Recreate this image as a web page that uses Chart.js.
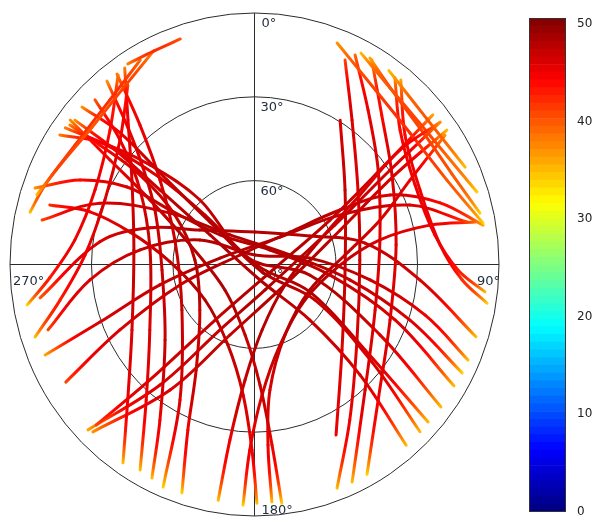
<!DOCTYPE html>
<html>
<head>
<meta charset="utf-8">
<script src="https://cdn.jsdelivr.net/npm/chart.js@4.4.1/dist/chart.umd.min.js"></script>
<style>
html,body{margin:0;padding:0;background:#fff;overflow:hidden;width:601px;height:522px}
.box{position:absolute}
</style>
</head>
<body>
<div class="box" style="left:0;top:0;width:510px;height:522px"><canvas id="sky" width="510" height="522"></canvas></div>
<div class="box" style="left:520px;top:0;width:81px;height:530px"><canvas id="bar" width="81" height="530"></canvas></div>
<script>
// ---------------- data (azimuth deg, elevation deg, SNR dB-Hz) ----------------
const satLabels = ["T01","T02","T03","T04","T05","T06","T07","T08","T09","T10","T11","T12","T13","T14","T15","T16","T17","T18","T19","T20","T21","T22","T23","T24","T25","T26","T27","T28","T29","T30","T31","T32","T33","T34","T35","T36","T37","T38"];

const trackAz = [
  [341.3,334.2,327.0],
  [333.8,322.0,309.4,297.1,287.3],
  [330.1,317.9,302.9,290.3,282.8],
  [311.6,313.6,313.2,312.8,134.0,119.7,128.9,134.5],
  [305.1,308.4,311.7,314.2,111.0,115.7,126.9,131.4],
  [302.9,307.6,312.8,319.0,314.0,100.6,118.6,126.6],
  [288.7,295.2,300.6,302.1,309.9,47.6,97.8,111.0,120.6],
  [281.5,291.1,300.6,319.7,75.4,98.9,109.2,116.9],
  [325.8,318.0,303.8,276.7,242.6,223.9,214.3],
  [320.4,316.4,310.1,298.0,266.6,230.6,212.0,206.3],
  [323.4,319.8,311.0,286.7,238.6,209.5,202.9],
  [315.1,312.0,302.4,277.7,238.7,219.4,209.8],
  [189.0,188.2,184.8,173.2,123.1,69.9,57.3,52.6,53.3],
  [173.3,174.3,177.3,187.9,230.1,286.5,301.0,305.1,307.3],
  [21.0,35.4,50.5,66.9,80.0],
  [27.4,38.3,49.9,61.6,72.4],
  [29.9,41.2,53.6,66.0,77.5],
  [35.5,50.6,65.8],
  [50.8,53.4,60.2,99.8,216.1,223.0,225.4],
  [53.3,55.9,64.5,156.8,208.5,218.9,226.0],
  [55.8,58.2,68.7,112.8,199.7,214.7,224.8],
  [80.5,72.1,63.5,58.2,48.5,302.7,255.1,244.7,238.8],
  [79.0,69.6,60.7,43.8,280.3,258.2,250.1,247.2],
  [323.5,312.1,294.5,277.6,266.4,260.2],
  [324.0,312.0,292.8,273.1,259.9,252.2],
  [37.7,48.1,64.3,80.9,91.5,96.6],
  [39.2,50.1,66.3,84.1,94.1,99.2],
  [26.3,37.1,53.4,79.2,110.2,137.8,155.2],
  [30.5,41.2,57.7,82.3,111.7,136.8,151.1],
  [24.5,34.8,55.0,87.6,125.6,147.8,159.2],
  [31.4,51.3,93.4,133.5,153.8],
  [179.4,180.8,185.1,198.8,235.1,271.7,284.2,287.3,285.8],
  [182.8,181.5,176.6,161.9,124.3,90.4,79.2,77.7,79.4],
  [175.7,175.6,172.8,156.0,114.0,84.2,71.0,62.2,56.6],
  [198.1,202.5,209.6,231.0,274.2,301.1,307.2,306.9,306.3],
  [308.0,308.6,307.5,302.9,160.0,134.3,135.5,139.2],
  [261.4,278.1,288.8,301.5,1.0,63.4,79.3,95.2,107.6],
  [252.9,264.8,277.1,293.6,3.0,83.6,97.4,106.1,113.5]
];

const trackEl = [
  [4.8,5.1,4.4],
  [5.2,10.7,12.6,10.3,6.1],
  [5.6,10.6,11.3,7.8,5.3],
  [5.1,21.7,45.9,67.6,86.1,64.3,34.5,4.6],
  [4.9,22.2,43.4,64.6,88.6,67.4,39.1,4.8],
  [4.7,18.2,37.6,59.4,86.7,69.2,37.4,4.5],
  [4.7,19.0,35.5,53.3,73.5,82.3,61.9,34.6,4.7],
  [10.2,29.0,53.9,76.1,76.5,54.5,29.4,4.3],
  [5.0,20.4,35.7,45.3,39.2,22.7,4.1],
  [4.8,22.5,36.4,48.5,55.9,47.4,24.3,4.8],
  [5.1,24.7,43.9,59.4,58.7,34.3,3.6],
  [6.8,23.4,40.1,51.2,44.9,27.2,5.3],
  [4.6,26.6,48.6,66.4,76.6,64.3,43.9,22.5,4.8],
  [4.0,25.1,46.8,64.6,75.8,65.3,45.1,25.0,4.7],
  [5.1,13.3,15.9,13.0,4.6],
  [4.8,9.5,10.9,9.1,4.1],
  [4.8,10.4,12.0,10.4,5.0],
  [4.8,7.9,5.0],
  [5.3,30.2,58.0,82.4,65.4,33.5,8.2],
  [4.8,29.7,57.2,80.1,63.4,34.6,4.8],
  [4.4,29.2,56.2,75.8,63.2,35.4,5.6],
  [4.7,18.2,34.2,53.0,72.5,83.7,61.6,35.2,8.8],
  [10.3,29.0,53.9,76.4,77.1,54.4,29.5,6.4],
  [5.6,18.3,25.5,23.3,14.5,5.1],
  [10.7,23.4,30.3,27.5,17.3,5.2],
  [5.5,18.0,24.4,22.8,15.1,4.6],
  [4.8,17.8,23.5,21.3,13.4,3.3],
  [6.4,20.7,33.3,43.0,42.7,29.4,4.3],
  [5.0,18.9,30.1,37.4,36.3,23.5,4.3],
  [9.6,27.1,43.5,51.2,43.6,24.2,4.4],
  [29.5,47.3,56.6,45.6,22.0],
  [4.6,23.6,43.1,59.6,67.8,58.9,42.8,26.6,11.7],
  [3.8,23.6,43.2,59.7,67.5,58.5,43.0,23.9,7.4],
  [4.8,25.2,44.7,62.4,67.7,56.5,41.1,25.3,6.0],
  [4.0,25.9,46.5,64.1,68.0,55.8,37.1,18.8,5.7],
  [6.1,24.3,46.1,70.5,84.1,61.5,34.6,4.6],
  [10.2,32.5,49.3,66.4,78.4,67.2,48.6,28.9,4.5],
  [10.5,29.2,47.6,68.1,86.6,69.5,47.1,24.6,4.3]
];

const trackSnr = [
  [40,42,38],
  [38,41,40,41,35],
  [39,42,42,41,35],
  [37,45,47,48,48,47,46,35],
  [38,45,46,47,48,48,46,35],
  [38,44,46,47,48,48,46,35],
  [37,44,46,47,48,48,47,46,35],
  [41,46,47,48,48,47,46,34],
  [38,45,46,47,46,45,35],
  [37,45,46,47,47,47,45,35],
  [38,45,46,47,47,46,34],
  [40,45,46,47,46,45,35],
  [35,45,47,48,48,47,46,45,37],
  [34,45,47,47,48,48,46,45,37],
  [37,41,42,40,34],
  [35,40,41,39,34],
  [36,41,41,40,34],
  [35,40,35],
  [36,46,47,48,47,46,41],
  [36,46,47,48,47,46,36],
  [35,46,47,48,47,46,37],
  [36,44,46,47,48,48,47,46,41],
  [41,46,47,48,48,47,46,36],
  [38,44,45,45,43,34],
  [41,45,46,45,43,35],
  [37,44,45,45,43,35],
  [36,44,45,45,42,34],
  [39,45,46,46,46,46,35],
  [37,44,46,46,46,45,34],
  [41,46,46,47,46,45,35],
  [46,47,47,46,45],
  [35,45,46,47,48,47,46,45,42],
  [34,45,46,47,48,47,46,45,39],
  [35,45,46,47,48,47,46,45,37],
  [34,45,47,47,48,47,46,44,38],
  [37,45,47,48,48,47,46,35],
  [40,46,47,48,48,48,47,46,35],
  [41,46,47,48,48,48,47,45,35]
];

const elevationRings = [0, 30, 60];
const ringLabels = ["0°", "30°", "60°"];
const centerLabel = "90°";
const azimuthLabels = ["270°", "90°", "180°"];
const colorbarMin = 0;
const colorbarMax = 50.6;
const colorbarTicks = [0, 10, 20, 30, 40, 50];
const colorbarBands = 64;

// ---------------- helpers ----------------
function clamp01(v){ return Math.max(0, Math.min(1, v)); }
function jetT(t){
  t = clamp01(t);
  const r = clamp01(1.5 - Math.abs(4*t - 3));
  const g = clamp01(1.5 - Math.abs(4*t - 2));
  const b = clamp01(1.5 - Math.abs(4*t - 1));
  return 'rgb(' + Math.round(r*255) + ',' + Math.round(g*255) + ',' + Math.round(b*255) + ')';
}
function jet(v){ return jetT((v - colorbarMin) / (colorbarMax - colorbarMin)); }
function toXY(az, el){
  const zd = 90 - el, a = az * Math.PI / 180;
  return { x: zd * Math.sin(a), y: zd * Math.cos(a) };
}

const FONT = '13px "DejaVu Sans", sans-serif';
const TEXT = '#1f2a3c';

// ---------------- sky plot ----------------
const skyCanvas = document.getElementById('sky');
const skyCtx = skyCanvas.getContext('2d');

const gridPlugin = {
  id: 'skygrid',
  beforeDatasetsDraw(chart){
    const ctx = chart.ctx, sx = chart.scales.x, sy = chart.scales.y;
    const cx = sx.getPixelForValue(0), cy = sy.getPixelForValue(0);
    ctx.save();
    ctx.strokeStyle = '#2b2b2b';
    ctx.lineWidth = 1;
    let Rx = 0, Ry = 0;
    elevationRings.forEach(el => {
      const zd = 90 - el;
      const rx = sx.getPixelForValue(zd) - cx;
      const ry = cy - sy.getPixelForValue(zd);
      if (rx > Rx) { Rx = rx; Ry = ry; }
      ctx.beginPath();
      ctx.ellipse(cx, cy, rx, ry, 0, 0, Math.PI*2);
      ctx.stroke();
    });
    ctx.beginPath();
    ctx.moveTo(cx, cy - Ry); ctx.lineTo(cx, cy + Ry);
    ctx.moveTo(cx - Rx, cy); ctx.lineTo(cx + Rx, cy);
    ctx.stroke();
    ctx.font = FONT;
    ctx.fillStyle = TEXT;
    ctx.textBaseline = 'alphabetic';
    ctx.textAlign = 'left';
    elevationRings.forEach((el, i) => {
      const top = sy.getPixelForValue(90 - el);
      ctx.fillText(ringLabels[i], cx + (i === 0 ? 7 : 6), top + 14);
    });
    ctx.fillText(centerLabel, cx + 6, cy + 13);
    ctx.fillText(azimuthLabels[0], cx - Rx + 3, cy + 20);
    ctx.textAlign = 'right';
    ctx.fillText(azimuthLabels[1], cx + Rx + 1, cy + 20);
    ctx.textAlign = 'left';
    ctx.fillText(azimuthLabels[2], cx + 7, cy + Ry - 2);
    ctx.restore();
  }
};

// colour along a segment: walk through the colour map, the change concentrated near the weaker end
function segmentGradient(c){
  const s = trackSnr[c.datasetIndex];
  const s0 = s[c.p0DataIndex], s1 = s[c.p1DataIndex];
  const g = skyCtx.createLinearGradient(c.p0.x, c.p0.y, c.p1.x, c.p1.y);
  const n = 10;
  for (let k = 0; k <= n; k++) {
    const t = k / n;
    const f = s0 < s1 ? 1 - Math.pow(1 - t, 2.5) : Math.pow(t, 2.5);
    g.addColorStop(t, jet(s0 + (s1 - s0) * f));
  }
  return g;
}

const datasets = trackAz.map((azs, i) => ({
  label: satLabels[i],
  data: azs.map((a, j) => toXY(a, trackEl[i][j])),
  showLine: true,
  pointRadius: 0,
  pointHoverRadius: 0,
  borderWidth: 3,
  tension: 0.35,
  fill: false,
  borderCapStyle: 'round',
  borderJoinStyle: 'round',
  borderColor: jet(trackSnr[i][0]),
  segment: {
    borderColor: segmentGradient,
    borderDashOffset: c => c.p0DataIndex
  }
}));

new Chart(skyCtx, {
  type: 'scatter',
  data: { datasets },
  options: {
    responsive: false,
    animation: false,
    devicePixelRatio: 1,
    events: [],
    layout: { padding: { left: 10, right: 11, top: 13, bottom: 6 } },
    scales: {
      x: { type: 'linear', min: -90, max: 90, display: false },
      y: { type: 'linear', min: -90, max: 90, display: false }
    },
    plugins: { legend: { display: false }, tooltip: { enabled: false } }
  },
  plugins: [gridPlugin]
});

// ---------------- colour bar ----------------
const bandDatasets = [];
for (let i = 0; i < colorbarBands; i++) {
  const lo = colorbarMin + (colorbarMax - colorbarMin) * i / colorbarBands;
  const hi = colorbarMin + (colorbarMax - colorbarMin) * (i + 1) / colorbarBands;
  bandDatasets.push({
    data: [[lo, hi]],
    backgroundColor: jetT((i + 0.5) / colorbarBands),
    borderWidth: 0,
    grouped: false,
    barPercentage: 1,
    categoryPercentage: 1
  });
}

const framePlugin = {
  id: 'cbframe',
  afterDatasetsDraw(chart){
    const a = chart.chartArea, ctx = chart.ctx;
    ctx.save();
    ctx.strokeStyle = '#333';
    ctx.lineWidth = 1;
    ctx.strokeRect(Math.round(a.left) + 0.5, Math.round(a.top) + 0.5, Math.round(a.right - a.left) - 1, Math.round(a.bottom - a.top) - 1);
    ctx.restore();
  }
};

new Chart(document.getElementById('bar').getContext('2d'), {
  type: 'bar',
  data: { labels: [''], datasets: bandDatasets },
  options: {
    responsive: false,
    animation: false,
    devicePixelRatio: 1,
    events: [],
    layout: { padding: { left: 9, right: 0, top: 11, bottom: 13 } },
    scales: {
      x: { display: false },
      y: {
        position: 'right',
        min: colorbarMin,
        max: colorbarMax,
        grid: { display: false, drawTicks: false },
        border: { display: false },
        afterFit(scale){ scale.width = 35; },
        afterBuildTicks(scale){ scale.ticks = colorbarTicks.map(v => ({ value: v })); },
        ticks: { padding: 11, color: '#222', font: { family: '"DejaVu Sans", sans-serif', size: 12 } }
      }
    },
    plugins: { legend: { display: false }, tooltip: { enabled: false } }
  },
  plugins: [framePlugin]
});
</script>
</body>
</html>
